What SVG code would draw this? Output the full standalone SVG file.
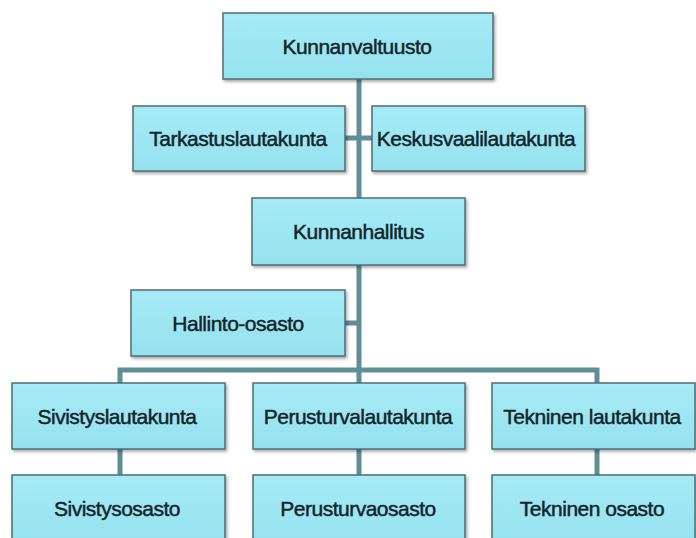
<svg xmlns="http://www.w3.org/2000/svg" width="696" height="538" viewBox="0 0 696 538">
<defs>
<filter id="sh" x="-10%" y="-10%" width="125%" height="135%">
<feDropShadow dx="1.5" dy="2" stdDeviation="1.5" flood-color="#000" flood-opacity="0.35"/>
</filter>
<linearGradient id="fill" x1="0" y1="0" x2="0" y2="1">
<stop offset="0" stop-color="#a6ebf5"/>
<stop offset="1" stop-color="#95e2ef"/>
</linearGradient>
</defs>
<style>
.box{fill:url(#fill);stroke:#4f6e74;stroke-width:1.5;filter:url(#sh)}
.lbl{font-family:"Liberation Sans",Arial,sans-serif;font-size:21px;fill:#13242a;stroke:#13242a;stroke-width:0.45;text-anchor:middle;dominant-baseline:central;letter-spacing:-0.5px}
.conn{stroke:#5f8e97;stroke-width:5;fill:none}
</style>
<rect width="696" height="538" fill="#ffffff"/>
<g id="connectors">
<path class="conn" d="M359 79 V198 M359 265 V370 M345 138 H372 M345 323 H359 M120 383 V370 H597 V383 M359 370 V383 M120 449 V475 M359 449 V475 M597 449 V475"/>
</g>
<g id="kunnanvaltuusto"><rect class="box" x="223" y="13" width="270" height="66"/><text class="lbl" x="357" y="46">Kunnanvaltuusto</text></g>
<g id="tarkastuslautakunta"><rect class="box" x="133" y="106" width="212" height="65"/><text class="lbl" x="238" y="138.5">Tarkastuslautakunta</text></g>
<g id="keskusvaalilautakunta"><rect class="box" x="372" y="106" width="213" height="65"/><text class="lbl" x="476" y="138.5">Keskusvaalilautakunta</text></g>
<g id="kunnanhallitus"><rect class="box" x="252" y="198" width="213" height="67"/><text class="lbl" x="358.5" y="231.5">Kunnanhallitus</text></g>
<g id="hallinto-osasto"><rect class="box" x="131" y="290" width="214" height="66"/><text class="lbl" x="238" y="323">Hallinto-osasto</text></g>
<g id="sivistyslautakunta"><rect class="box" x="12" y="383" width="213" height="66"/><text class="lbl" x="117" y="416">Sivistyslautakunta</text></g>
<g id="perusturvalautakunta"><rect class="box" x="253" y="383" width="212" height="66"/><text class="lbl" x="358" y="416">Perusturvalautakunta</text></g>
<g id="tekninen-lautakunta"><rect class="box" x="492" y="383" width="203" height="66"/><text class="lbl" x="592" y="416">Tekninen lautakunta</text></g>
<g id="sivistysosasto"><rect class="box" x="12" y="475" width="213" height="70"/><text class="lbl" x="117" y="508">Sivistysosasto</text></g>
<g id="perusturvaosasto"><rect class="box" x="253" y="475" width="212" height="70"/><text class="lbl" x="358" y="508">Perusturvaosasto</text></g>
<g id="tekninen-osasto"><rect class="box" x="492" y="475" width="203" height="70"/><text class="lbl" x="592" y="508">Tekninen osasto</text></g>
</svg>
